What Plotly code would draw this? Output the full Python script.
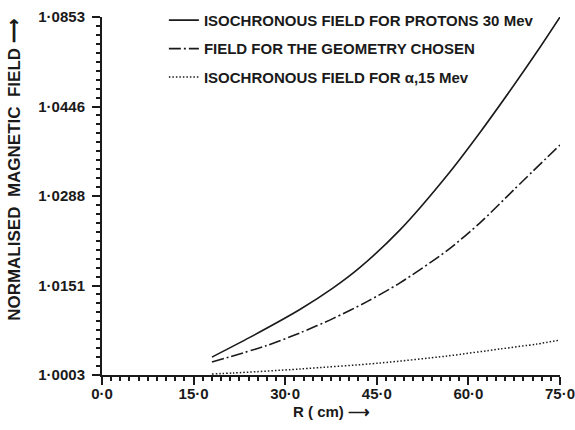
import numpy as np
import plotly.graph_objects as go

# ---- data ----
tick_field = [1.0003, 1.0151, 1.0288, 1.0446, 1.0853]
tick_text = ["1·0003", "1·0151", "1·0288", "1·0446", "1·0853"]
x_ticks = [0, 15, 30, 45, 60, 75]
x_text = ["0·0", "15·0", "30·0", "45·0", "60·0", "75·0"]

r_proton = [18.0, 24.2, 32.4, 37.8, 42.2, 48.8, 56.5, 61.9, 67.3, 71.7, 75.0]
b_proton = [1.00326, 1.00652, 1.01113, 1.01466, 1.01783, 1.02361, 1.03242,
            1.04002, 1.05368, 1.07142, 1.08530]

r_geom = [18.0, 27.0, 32.4, 37.8, 43.4, 48.8, 56.5, 61.9, 67.3, 75.0]
b_geom = [1.00245, 1.00518, 1.00726, 1.00962, 1.01244, 1.01551, 1.02044,
          1.02469, 1.02975, 1.03781]

r_alpha = [18.0, 21.5, 32.4, 45.5, 56.5, 65.2, 71.2, 75.0]
b_alpha = [1.00046, 1.00063, 1.00129, 1.00228, 1.00344, 1.00461, 1.00542, 1.00609]

names = ["ISOCHRONOUS FIELD FOR PROTONS 30 Mev",
         "FIELD FOR THE GEOMETRY CHOSEN",
         "ISOCHRONOUS FIELD FOR α,15 Mev"]

# the field axis is drawn with equally spaced (non-linear) ticks
tick_pos = list(range(len(tick_field)))


def to_axis(vals):
    return np.interp(vals, tick_field, tick_pos)


FONT = "Liberation Sans"
ink = "#1a1a1a"

fig = go.Figure()
styles = [("solid", 1.6), ("12px,3px,2px,3px", 1.6), ("1.5px,2px", 1.5)]
for i, (r, b) in enumerate([(r_proton, b_proton), (r_geom, b_geom), (r_alpha, b_alpha)]):
    dash, w = styles[i]
    fig.add_trace(go.Scatter(
        x=r, y=to_axis(b), mode="lines", name=names[i],
        legendgroup=str(i),
        line=dict(color=ink, width=w, dash=dash, shape="spline", smoothing=0.8)))

fig.update_layout(
    width=575, height=430,
    margin=dict(l=102, r=15, t=17, b=55, autoexpand=False),
    paper_bgcolor="white", plot_bgcolor="white",
    font=dict(family=FONT, color=ink, size=15, weight="bold"),
    showlegend=True,
    legend=dict(xref="container", yref="container", x=0.285, y=0.991,
                xanchor="left", yanchor="top",
                bgcolor="rgba(0,0,0,0)", borderwidth=0,
                traceorder="grouped", tracegroupgap=6,
                font=dict(family=FONT, size=15, color=ink, weight="bold")),
    xaxis=dict(range=[0, 75], tickvals=x_ticks, ticktext=x_text,
               automargin=False,
               showgrid=False, zeroline=False, showline=True,
               linecolor=ink, linewidth=2, ticks="outside", ticklen=8,
               tickwidth=2, tickcolor=ink, ticklabeloverflow="allow",
               ticklabelstandoff=-4,
               minor=dict(dtick=1.5, ticks="outside", ticklen=4,
                          tickwidth=1.5, tickcolor=ink, showgrid=False),
               tickfont=dict(family=FONT, size=15, color=ink, weight="bold")),
    yaxis=dict(range=[0, 4], tickvals=tick_pos, ticktext=tick_text,
               automargin=False,
               showgrid=False, zeroline=False, showline=True,
               linecolor=ink, linewidth=2, ticks="outside", ticklen=8,
               tickwidth=2, tickcolor=ink, ticklabelstandoff=4,
               ticklabeloverflow="allow",
               minor=dict(dtick=0.1, ticks="outside", ticklen=4,
                          tickwidth=1.5, tickcolor=ink, showgrid=False),
               tickfont=dict(family=FONT, size=15, color=ink, weight="bold")),
)

fig.add_annotation(text="NORMALISED  MAGNETIC  FIELD ⟶", textangle=-90,
                   xref="paper", yref="paper", x=-0.19, y=0.573,
                   xanchor="center", yanchor="middle", showarrow=False,
                   font=dict(family=FONT, size=17, color=ink, weight="bold"))
fig.add_annotation(text="R ( cm) ⟶",
                   xref="paper", yref="paper", x=0.5, y=-0.103,
                   xanchor="center", yanchor="middle", showarrow=False,
                   font=dict(family=FONT, size=15, color=ink, weight="bold"))

fig.write_html("out.html")
